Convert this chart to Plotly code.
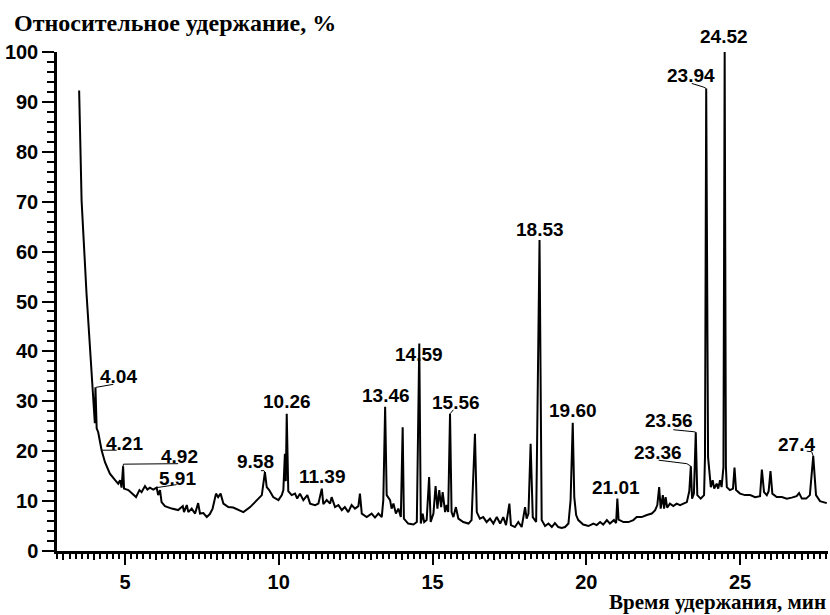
import plotly.graph_objects as go

# Retention time (min) and relative intensity (%)
time_min = [3.51, 3.59, 3.75, 3.88, 3.97, 4.02, 4.04, 4.08, 4.13, 4.24, 4.35, 4.51, 4.68, 4.78, 4.84,
            4.89, 4.94, 4.97, 5.11, 5.22, 5.36, 5.47, 5.54, 5.65, 5.73, 5.81, 5.92, 6.03, 6.08, 6.14,
            6.19, 6.30, 6.52, 6.73, 6.88, 6.92, 7.01, 7.06, 7.17, 7.28, 7.38, 7.44, 7.55, 7.66, 7.76,
            7.85, 7.96, 8.03, 8.11, 8.20, 8.36, 8.52, 8.85, 9.07, 9.28, 9.45, 9.55, 9.61, 9.69, 9.82,
            9.99, 10.10, 10.15, 10.20, 10.23, 10.26, 10.31, 10.42, 10.53, 10.60, 10.69, 10.80, 10.93,
            11.02, 11.18, 11.29, 11.40, 11.45, 11.56, 11.67, 11.72, 11.83, 11.94, 12.05, 12.15, 12.26,
            12.37, 12.48, 12.59, 12.64, 12.70, 12.86, 13.02, 13.13, 13.24, 13.35, 13.40, 13.46, 13.51,
            13.62, 13.67, 13.73, 13.81, 13.89, 13.97, 14.03, 14.07, 14.21, 14.38, 14.49, 14.57, 14.62,
            14.68, 14.73, 14.81, 14.89, 14.94, 15.03, 15.10, 15.16, 15.22, 15.28, 15.33, 15.41, 15.46,
            15.51, 15.57, 15.62, 15.68, 15.76, 15.84, 16.00, 16.17, 16.27, 16.38, 16.44, 16.54, 16.65,
            16.76, 16.87, 16.98, 17.09, 17.20, 17.30, 17.39, 17.50, 17.55, 17.68, 17.79, 17.90, 18.01,
            18.06, 18.12, 18.19, 18.26, 18.37, 18.48, 18.55, 18.66, 18.77, 18.88, 18.98, 19.09, 19.20,
            19.31, 19.42, 19.49, 19.56, 19.61, 19.67, 19.74, 19.90, 20.07, 20.23, 20.34, 20.45, 20.55,
            20.67, 20.77, 20.90, 20.97, 21.01, 21.05, 21.21, 21.37, 21.53, 21.64, 21.80, 21.97, 22.13,
            22.24, 22.31, 22.37, 22.42, 22.49, 22.53, 22.58, 22.63, 22.72, 22.83, 22.94, 23.05, 23.16,
            23.27, 23.35, 23.40, 23.44, 23.50, 23.56, 23.61, 23.72, 23.83, 23.86, 23.90, 23.96, 24.05,
            24.11, 24.16, 24.24, 24.29, 24.35, 24.40, 24.46, 24.50, 24.54, 24.57, 24.67, 24.77, 24.82,
            24.87, 25.00, 25.16, 25.33, 25.49, 25.65, 25.71, 25.78, 25.87, 25.93, 25.99, 26.05, 26.19,
            26.36, 26.52, 26.68, 26.84, 26.92, 27.01, 27.15, 27.27, 27.38, 27.47, 27.60, 27.82]

intensity = [92.3, 70.2, 51.6, 38.2, 30.9, 25.6, 32.8, 24.6, 23.8, 20.2, 17.8, 15.5, 14.2, 13.5, 14.2,
             12.7, 17.0, 12.5, 12.2, 11.5, 10.8, 12.2, 11.8, 13.0, 12.3, 12.7, 12.3, 12.7, 11.2, 12.2,
             9.8, 9.0, 8.5, 8.2, 9.0, 7.8, 9.2, 7.8, 8.5, 7.5, 9.6, 7.5, 7.6, 6.8, 7.4,
             8.5, 11.5, 10.8, 11.5, 9.5, 8.8, 8.7, 7.8, 8.8, 10.2, 11.2, 15.8, 12.8, 12.2, 10.8,
             10.2, 11.2, 12.2, 19.5, 14.0, 27.5, 12.0, 11.2, 11.5, 10.5, 11.5, 10.2, 11.2,
             9.5, 9.2, 9.5, 12.5, 9.4, 10.2, 9.5, 10.8, 8.8, 9.2, 8.2, 8.8, 7.8,
             9.2, 8.5, 9.0, 11.5, 7.5, 6.8, 7.5, 6.7, 7.5, 6.8, 10.2, 28.9, 11.2,
             10.2, 8.5, 9.5, 7.5, 8.5, 6.8, 24.8, 6.5, 5.5, 5.3, 5.8, 41.6, 5.5,
             7.5, 5.8, 6.2, 14.8, 5.8, 7.5, 13.0, 8.5, 12.2, 8.8, 11.8, 7.8, 9.2,
             7.8, 27.5, 7.8, 6.8, 8.8, 6.5, 5.8, 5.5, 6.2, 23.5, 7.8, 6.5, 6.8,
             5.8, 6.5, 5.5, 6.8, 5.5, 6.8, 5.2, 9.5, 5.2, 4.8, 5.8, 4.8, 8.8,
             6.5, 7.5, 21.5, 6.8, 5.8, 62.3, 6.2, 5.0, 5.5, 4.8, 5.6, 4.8, 4.6,
             4.8, 5.5, 10.2, 25.7, 10.8, 7.2, 6.2, 5.3, 5.0, 5.5, 5.2, 5.8, 5.3,
             6.2, 5.5, 6.2, 5.6, 10.5, 6.3, 5.8, 5.8, 6.2, 6.8, 6.8, 7.2, 7.5,
             8.2, 9.2, 12.8, 8.5, 11.2, 8.5, 10.8, 8.7, 9.5, 9.0, 9.5, 9.2, 9.5,
             9.8, 12.0, 17.0, 10.5, 11.5, 23.8, 11.2, 10.5, 11.2, 18.8, 92.7, 18.8, 12.8,
             14.2, 12.5, 13.5, 12.5, 14.2, 12.8, 16.8, 100.0, 16.8, 12.8, 12.2, 12.5, 16.7,
             12.2, 11.5, 11.2, 11.2, 10.8, 11.0, 16.3, 11.8, 11.2, 12.0, 16.0, 11.5, 10.8,
             10.8, 10.5, 10.7, 11.0, 11.6, 10.5, 10.5, 11.2, 19.0, 11.2, 10.0, 9.6]

# Peak labels and where their text sits (time, intensity)
label_text = ["4.04", "4.21", "4.92", "5.91", "9.58", "10.26", "11.39", "13.46", "14.59",
              "15.56", "18.53", "19.60", "21.01", "23.36", "23.56", "23.94", "24.52", "27.4"]
label_t = [4.80, 5.00, 6.76, 6.72, 9.26, 10.27, 11.42, 13.49, 14.56,
           15.75, 18.49, 19.57, 20.97, 22.33, 22.69, 23.41, 24.48, 26.82]
label_v = [35.0, 21.6, 19.0, 14.6, 18.0, 29.9, 15.0, 31.1, 39.3,
           29.8, 64.4, 28.2, 12.8, 19.7, 26.1, 95.2, 103.2, 21.3]

# Leader lines from peak tops to labels
leader_t = [[4.06, 4.62], [4.24, 4.73], [4.94, 4.95, 6.73], [6.03, 6.68], [9.55, 9.52, 9.42],
            [15.57, 15.68], [23.40, 23.27, 22.35], [23.56, 23.50, 22.83], [23.90, 23.80, 23.43],
            [27.38, 27.33, 27.17]]
leader_v = [[32.8, 33.4], [20.2, 20.2], [17.0, 17.4, 17.5], [12.7, 13.3], [15.8, 16.1, 16.1],
            [27.5, 28.3], [17.0, 17.5, 18.2], [23.8, 23.9, 24.3], [92.7, 93.0, 93.7],
            [19.0, 19.9, 20.0]]

x_range = [2.79, 27.86]
y_range = [0, 100]

fig = go.Figure()
fig.add_trace(go.Scatter(x=time_min, y=intensity, mode="lines",
                         line=dict(color="black", width=2), showlegend=False, hoverinfo="skip",
                         cliponaxis=False))
for lt, lv in zip(leader_t, leader_v):
    fig.add_trace(go.Scatter(x=lt, y=lv, mode="lines", line=dict(color="black", width=1),
                             showlegend=False, hoverinfo="skip"))
# invisible trace to host the integer tick axis
fig.add_trace(go.Scatter(x=x_range, y=[0, 0], xaxis="x2", mode="lines",
                         line=dict(width=0), showlegend=False, hoverinfo="skip"))

lab_font = dict(family="Liberation Sans", size=19, color="black", weight="bold")
span = y_range[1] - y_range[0]
for txt, t, v in zip(label_text, label_t, label_v):
    fig.add_annotation(x=t, y=(v - y_range[0]) / span, xref="x", yref="paper", text=txt,
                       showarrow=False, font=lab_font, xanchor="center", yanchor="middle")

fig.add_annotation(xref="paper", yref="paper", x=-0.059, y=1.058, text="Относительное удержание, %",
                   showarrow=False, xanchor="left", yanchor="middle",
                   font=dict(family="Liberation Serif", size=24, color="black", weight="bold"))
fig.add_annotation(xref="paper", yref="paper", x=1.0, y=-0.103, text="Время удержания, мин",
                   showarrow=False, xanchor="right", yanchor="middle",
                   font=dict(family="Liberation Serif", size=21, color="black", weight="bold"))

tick_font = dict(family="Liberation Sans", size=20, color="black", weight="bold")
fig.update_layout(
    width=830, height=615, autosize=False,
    margin=dict(l=57, r=2, t=52, b=64),
    paper_bgcolor="white", plot_bgcolor="white",
    xaxis=dict(range=x_range, showline=True, linewidth=2.5, linecolor="black", automargin=False,
               showgrid=False, zeroline=False, ticks="outside", tick0=0, dtick=5,
               ticklen=11, tickwidth=2, tickcolor="black", tickfont=tick_font,
               minor=dict(tick0=0, dtick=0.2, ticks="outside", ticklen=5, tickwidth=1.5,
                          tickcolor="black", showgrid=False)),
    xaxis2=dict(range=x_range, overlaying="x", anchor="y", side="bottom", showline=False,
                automargin=False,
                showgrid=False, zeroline=False, ticks="outside", tick0=0, dtick=1,
                ticklen=8, tickwidth=2, tickcolor="black", showticklabels=False),
    yaxis=dict(range=y_range, showline=True, linewidth=2.5, linecolor="black", automargin=False,
               showgrid=False, zeroline=False, ticks="outside", tick0=0, dtick=10,
               ticklen=12, tickwidth=2, tickcolor="black", tickfont=tick_font,
               minor=dict(tick0=0, dtick=2, ticks="outside", ticklen=7, tickwidth=2,
                          tickcolor="black", showgrid=False)),
)

# remove the default page margin so the 830x615 figure fills the window exactly
fig.write_html("out.html", config={"displayModeBar": False}, post_script=(
    "document.documentElement.style.margin='0';document.body.style.margin='0';"
    "document.documentElement.style.overflow='hidden';document.body.style.overflow='hidden';"))
